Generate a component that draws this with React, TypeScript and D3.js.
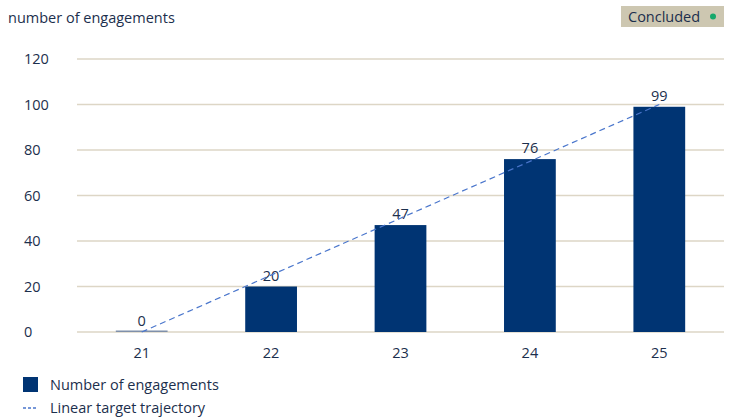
import { useEffect, useRef } from 'react'
import * as d3 from 'd3'

const years = ['21', '22', '23', '24', '25']
const engagements = [0, 20, 47, 76, 99]
const targetTrajectory = [0, 25, 50, 75, 100]
const yTicks = [0, 20, 40, 60, 80, 100, 120]

const NAVY = '#003473'
const TEXT = '#1c2f4d'
const GRID = '#ddd6c6'
const DASH = '#4a76cc'

export default function App() {
  const svgRef = useRef<SVGSVGElement>(null)
  const width = 741
  const height = 418

  useEffect(() => {
    if (!svgRef.current) return
    const svg = d3.select(svgRef.current)
    svg.selectAll('*').remove()

    const font = '"Open Sans", Roboto, sans-serif'
    const fs = 14.5
    const left = 77, right = 724, top = 59, bottom = 332

    const x = d3.scaleBand().domain(years).range([left, right]).paddingInner(0.6).paddingOuter(0.3)
    const y = d3.scaleLinear().domain([0, 120]).range([bottom, top])

    // title
    svg.append('text')
      .attr('x', 8).attr('y', 23)
      .attr('font-family', font).attr('font-size', fs).attr('fill', TEXT)
      .text('number of engagements')

    // badge
    const badge = svg.append('g')
    badge.append('rect')
      .attr('x', 621).attr('y', 6).attr('width', 103).attr('height', 21)
      .attr('fill', '#cdc7b1')
    badge.append('text')
      .attr('x', 628).attr('y', 21.5)
      .attr('font-family', font).attr('font-size', fs).attr('fill', TEXT)
      .text('Concluded')
    badge.append('circle').attr('cx', 713).attr('cy', 16.5).attr('r', 3).attr('fill', '#16a86b')

    // grid + y labels
    yTicks.forEach(t => {
      svg.append('line')
        .attr('x1', left).attr('x2', right)
        .attr('y1', y(t)).attr('y2', y(t))
        .attr('stroke', GRID).attr('stroke-width', 1.5)
      svg.append('text')
        .attr('x', 24).attr('y', y(t) + 5)
        .attr('font-family', font).attr('font-size', fs).attr('fill', TEXT)
        .text(t)
    })

    // bars
    const cx = (d: string) => (x(d) || 0) + x.bandwidth() / 2
    years.forEach((yr, i) => {
      const v = engagements[i]
      const h = Math.max(bottom - y(v), 1.5)
      svg.append('rect')
        .attr('x', x(yr) || 0).attr('width', x.bandwidth())
        .attr('y', bottom - h).attr('height', h)
        .attr('fill', v === 0 ? '#7f90aa' : NAVY)
      svg.append('text')
        .attr('x', cx(yr)).attr('y', y(v) - 6)
        .attr('text-anchor', 'middle')
        .attr('font-family', font).attr('font-size', fs).attr('fill', TEXT)
        .text(v)
      svg.append('text')
        .attr('x', cx(yr)).attr('y', 358)
        .attr('text-anchor', 'middle')
        .attr('font-family', font).attr('font-size', fs).attr('fill', TEXT)
        .text(yr)
    })

    // target line
    const line = d3.line<number>()
      .x((_, i) => cx(years[i]))
      .y(d => y(d))
    svg.append('path')
      .datum(targetTrajectory)
      .attr('d', line)
      .attr('fill', 'none')
      .attr('stroke', DASH)
      .attr('stroke-width', 1.2)
      .attr('stroke-dasharray', '6,4')

    // legend
    svg.append('rect').attr('x', 23).attr('y', 377).attr('width', 15).attr('height', 15).attr('fill', NAVY)
    svg.append('text')
      .attr('x', 50).attr('y', 390)
      .attr('font-family', font).attr('font-size', fs).attr('fill', TEXT)
      .text('Number of engagements')
    svg.append('line')
      .attr('x1', 23).attr('x2', 38).attr('y1', 408).attr('y2', 408)
      .attr('stroke', DASH).attr('stroke-width', 1.5).attr('stroke-dasharray', '3,2')
    svg.append('text')
      .attr('x', 50).attr('y', 413)
      .attr('font-family', font).attr('font-size', fs).attr('fill', TEXT)
      .text('Linear target trajectory')
  }, [])

  return (
    <svg
      ref={svgRef}
      width={width}
      height={height}
      style={{ position: 'absolute', left: 0, top: 0, background: '#fff' }}
    />
  )
}
